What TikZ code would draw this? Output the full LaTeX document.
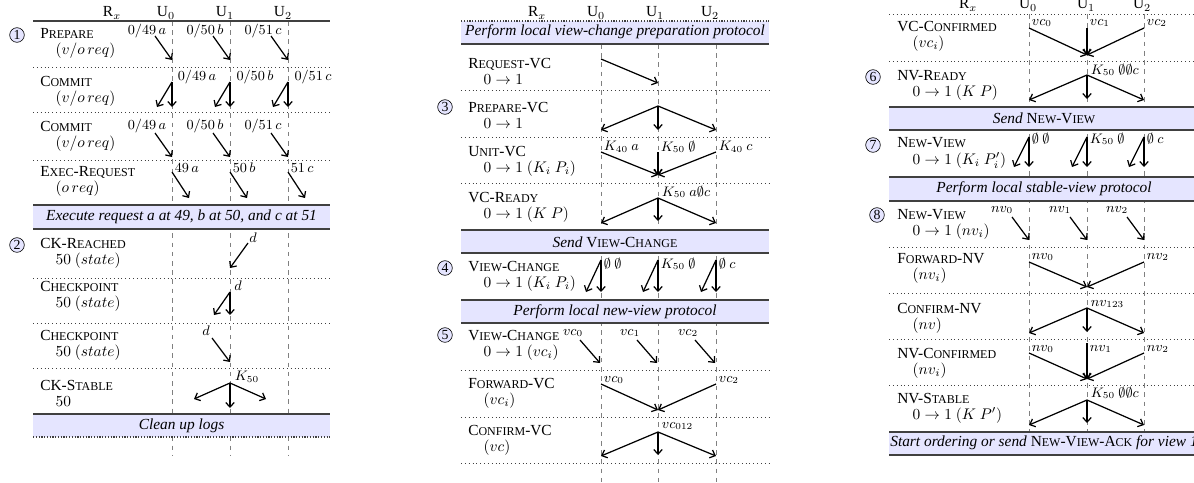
\documentclass[tikz,border=0pt]{standalone}
\usepackage{fontspec}
\setmainfont{Liberation Serif}
\usetikzlibrary{arrows.meta}
% fake small caps
\newcommand{\smc}[1]{{\fontsize{7.8pt}{9pt}\selectfont #1}}

\begin{document}
\begin{tikzpicture}[x=0.65pt,y=-0.65pt,
  lane/.style={gray,dashed,line width=0.5pt},
  sep/.style={black!75,dotted,line width=0.5pt},
  rule/.style={black!75,line width=0.8pt},
  msg/.style={-{Straight Barb[length=3pt,width=5.5pt]},line width=0.8pt},
  hdr/.style={inner sep=0pt},
  rowlbl/.style={anchor=west,align=left,inner sep=0pt,font=\fontsize{10pt}{10.5pt}\selectfont},
  lbl/.style={inner sep=1pt,font=\small},
  wlbl/.style={lbl,anchor=west},
  bandfill/.style={fill=blue!10},
  bandtxt/.style={font=\itshape,inner sep=0pt},
  stepnum/.style={circle,draw,fill=blue!10,inner sep=0pt,minimum size=9.5pt,font=\small}]
\useasboundingbox (0,0) rectangle (1194,482);
\clip (0,0) rectangle (1194,482);

% ================= left panel: ordering and checkpoint =================
\foreach \x in {172,230,288} \draw[lane] (\x,21) -- (\x,455);
\draw[rule] (33,21) -- (330,21);
\foreach \y in {67,112,160,278,323,368} \draw[sep] (33,\y) -- (330,\y);
\node[hdr] (hA) at (112,13) {R$_x$};
\node[hdr] (hA0) at (166,13) {U$_0$};
\node[hdr] (hA1) at (225,13) {U$_1$};
\node[hdr] (hA2) at (283,13) {U$_2$};

\foreach \y/\ta/\tb [count=\k] in {35/{P\smc{REPARE}}/{$(v/o\,req)$},
    83/{C\smc{OMMIT}}/{$(v/o\,req)$}, 128/{C\smc{OMMIT}}/{$(v/o\,req)$},
    173/{E\smc{XEC}-R\smc{EQUEST}}/{$(o\,req)$}, 245/{CK-R\smc{EACHED}}/{$50\ (state)$},
    288/{C\smc{HECKPOINT}}/{$50\ (state)$}, 337/{C\smc{HECKPOINT}}/{$50\ (state)$},
    385/{CK-S\smc{TABLE}}/{$50$}}
  \node[rowlbl] (rA\k) at (40,\y+8) {\ta\\\quad\tb};
\node[stepnum] (st1) at (17,35) {1};
\node[stepnum] (st2) at (17,245) {2};

% Prepare
\foreach \n/\x/\t in {0/172/{0/49\,a},1/230/{0/50\,b},2/288/{0/51\,c}}{
  \coordinate (pp\n) at (\x-17,36);
  \coordinate (pp\n e) at (\x,60);
  \node[lbl] (pp\n t) at (\x-25,31) {$\t$};
  \draw[msg] (pp\n) -- (pp\n e);
}
% Commit, forwarded
\foreach \n/\x/\t in {0/172/{0/49\,a},1/230/{0/50\,b},2/288/{0/51\,c}}{
  \coordinate (cm\n) at (\x,82);
  \coordinate (cm\n d) at (\x,107);
  \coordinate (cm\n l) at (\x-15,107);
  \node[lbl] (cm\n t) at (\x+25,77) {$\t$};
  \draw[msg] (cm\n) -- (cm\n d);
  \draw[msg] (cm\n) -- (cm\n l);
}
% Commit
\foreach \n/\x/\t in {0/172/{0/49\,a},1/230/{0/50\,b},2/288/{0/51\,c}}{
  \coordinate (ct\n) at (\x-17,133);
  \coordinate (ct\n e) at (\x,157);
  \node[lbl] (ct\n t) at (\x-25,126) {$\t$};
  \draw[msg] (ct\n) -- (ct\n e);
}
% Exec-Request
\foreach \n/\x/\t in {0/172/{49\,a},1/230/{50\,b},2/288/{51\,c}}{
  \coordinate (ex\n) at (\x,172);
  \coordinate (ex\n e) at (\x+17,198);
  \node[wlbl] (ex\n t) at (\x+1,168) {$\t$};
  \draw[msg] (ex\n) -- (ex\n e);
}

\fill[bandfill] (33,205) rectangle (330,229);
\draw[rule] (33,205) -- (330,205) (33,229) -- (330,229);
\node[bandtxt] (exec) at (181.5,217) {Execute request a at 49, b at 50, and c at 51};

% checkpoint rounds
\coordinate (ckr) at (248,243);
\coordinate (ckre) at (230,268);
\node[lbl] (ckrt) at (253,238) {$d$};
\draw[msg] (ckr) -- (ckre);

\coordinate (cka) at (230,292);
\coordinate (ckad) at (230,315);
\coordinate (ckal) at (214,315);
\node[lbl] (ckat) at (238,286) {$d$};
\draw[msg] (cka) -- (ckad);
\draw[msg] (cka) -- (ckal);

\coordinate (ckb) at (212,338);
\coordinate (ckbe) at (230,362);
\node[lbl] (ckbt) at (206,331) {$d$};
\draw[msg] (ckb) -- (ckbe);

\coordinate (cks) at (230,383);
\coordinate (cks0) at (194,399);
\coordinate (cks1) at (230,408);
\coordinate (cks2) at (266,399);
\node[wlbl] (ckst) at (233,377) {$K_{50}$};
\foreach \n in {0,1,2} \draw[msg] (cks) -- (cks\n);

\fill[bandfill] (33,414) rectangle (330,437);
\draw[rule] (33,414) -- (330,414);
\draw[rule,densely dotted] (33,437) -- (330,437);
\node[bandtxt] (clean) at (181.5,426) {Clean up logs};

% ================= middle panel: view change =================
\foreach \x in {601,658,716} \draw[lane] (\x,44) -- (\x,482);
\foreach \y in {90,137,183,370,417,463} \draw[sep] (461,\y) -- (769,\y);
\node[hdr] (hB) at (537,13) {R$_x$};
\node[hdr] (hB0) at (596,13) {U$_0$};
\node[hdr] (hB1) at (655,13) {U$_1$};
\node[hdr] (hB2) at (710,13) {U$_2$};

\fill[bandfill] (461,21) rectangle (769,44);
\draw[rule,densely dotted] (461,21) -- (769,21);
\draw[rule] (461,44) -- (769,44);
\node[bandtxt] (prep) at (615,32) {Perform local view-change preparation protocol};

\foreach \y/\ta/\tb [count=\k] in {63/{R\smc{EQUEST}-VC}/{$0\rightarrow 1$},
    107/{P\smc{REPARE}-VC}/{$0\rightarrow 1$}, 153/{U\smc{NIT}-VC}/{$0\rightarrow 1\ (K_i\ P_i)$},
    199/{VC-R\smc{EADY}}/{$0\rightarrow 1\ (K\ P)$}, 268/{V\smc{IEW}-C\smc{HANGE}}/{$0\rightarrow 1\ (K_i\ P_i)$},
    337/{V\smc{IEW}-C\smc{HANGE}}/{$0\rightarrow 1\ (vc_i)$}, 385/{F\smc{ORWARD}-VC}/{$(vc_i)$},
    432/{C\smc{ONFIRM}-VC}/{$(vc)$}}
  \node[rowlbl] (rB\k) at (468,\y+8) {\ta\\\quad\tb};
\node[stepnum] (st3) at (445,107) {3};
\node[stepnum] (st4) at (445,268) {4};
\node[stepnum] (st5) at (445,335) {5};

% Request-VC
\coordinate (rvc) at (601,59);
\coordinate (rvce) at (658,83);
\draw[msg] (rvc) -- (rvce);
% Prepare-VC
\coordinate (pvc) at (658,106);
\coordinate (pvc0) at (601,130);
\coordinate (pvc1) at (658,130);
\coordinate (pvc2) at (716,130);
\foreach \n in {0,1,2} \draw[msg] (pvc) -- (pvc\n);
% Unit-VC
\coordinate (uvce) at (658,175);
\foreach \n/\x/\t in {0/601/{K_{40}\ a},1/658/{K_{50}\ \emptyset},2/716/{K_{40}\ c}}{
  \coordinate (uvc\n) at (\x,152);
  \node[wlbl] (uvc\n t) at (\x+1,147) {$\t$};
  \draw[msg] (uvc\n) -- (uvce);
}
% VC-Ready
\coordinate (vcr) at (658,198);
\coordinate (vcr0) at (601,223);
\coordinate (vcr1) at (658,221);
\coordinate (vcr2) at (716,223);
\node[wlbl] (vcrt) at (660,192) {$K_{50}\ a\emptyset c$};
\foreach \n in {0,1,2} \draw[msg] (vcr) -- (vcr\n);

\fill[bandfill] (461,230) rectangle (769,253);
\draw[rule] (461,230) -- (769,230) (461,253) -- (769,253);
\node[bandtxt] (sendvc) at (615,242) {Send {\upshape V\smc{IEW}-C\smc{HANGE}}};

% View-Change, local
\foreach \n/\x/\t in {0/601/{\emptyset\ \emptyset},1/658/{K_{50}\ \emptyset},2/716/{\emptyset\ c}}{
  \coordinate (lvc\n) at (\x,260);
  \coordinate (lvc\n d) at (\x,292);
  \coordinate (lvc\n l) at (\x-15,292);
  \node[wlbl] (lvc\n t) at (\x+1,264) {$\t$};
  \draw[msg] (lvc\n) -- (lvc\n d);
  \draw[msg] (lvc\n) -- (lvc\n l);
}

\fill[bandfill] (461,300) rectangle (769,323);
\draw[rule] (461,300) -- (769,300) (461,323) -- (769,323);
\node[bandtxt] (newv) at (615,312) {Perform local new-view protocol};

% View-Change, broadcast
\foreach \n/\x in {0/601,1/658,2/716}{
  \coordinate (bvc\n) at (\x-21,340);
  \coordinate (bvc\n e) at (\x-1,363);
  \node[lbl] (bvc\n t) at (\x-28,333) {$vc_{\n}$};
  \draw[msg] (bvc\n) -- (bvc\n e);
}
% Forward-VC
\coordinate (fvce) at (658,410);
\coordinate (fvc0) at (601,384);
\coordinate (fvc2) at (716,384);
\node[wlbl] (fvc0t) at (602,380) {$vc_0$};
\node[wlbl] (fvc2t) at (717,380) {$vc_2$};
\draw[msg] (fvc0) -- (fvce);
\draw[msg] (fvc2) -- (fvce);
% Confirm-VC
\coordinate (cvc) at (658,432);
\coordinate (cvc0) at (601,456);
\coordinate (cvc1) at (658,455);
\coordinate (cvc2) at (716,456);
\node[wlbl] (cvct) at (660,426) {$vc_{012}$};
\foreach \n in {0,1,2} \draw[msg] (cvc) -- (cvc\n);

% ================= right panel: new view =================
\foreach \x in {1029,1087,1144} \draw[lane] (\x,14) -- (\x,432);
\foreach \y in {14,61,247,293,339,385} \draw[sep] (889,\y) -- (1199,\y);
\node[hdr] (hC) at (968,5) {R$_x$};
\node[hdr] (hC0) at (1028,5) {U$_0$};
\node[hdr] (hC1) at (1086,5) {U$_1$};
\node[hdr] (hC2) at (1142,5) {U$_2$};

\foreach \y/\ta/\tb [count=\k] in {28/{VC-C\smc{ONFIRMED}}/{$(vc_i)$},
    77/{NV-R\smc{EADY}}/{$0\rightarrow 1\ (K\ P)$}, 145/{N\smc{EW}-V\smc{IEW}}/{$0\rightarrow 1\ (K_i\ P'_i)$},
    216/{N\smc{EW}-V\smc{IEW}}/{$0\rightarrow 1\ (nv_i)$}, 260/{F\smc{ORWARD}-NV}/{$(nv_i)$},
    310/{C\smc{ONFIRM}-NV}/{$(nv)$}, 355/{NV-C\smc{ONFIRMED}}/{$(nv_i)$},
    400/{NV-S\smc{TABLE}}/{$0\rightarrow 1\ (K\ P')$}}
  \node[rowlbl] (rC\k) at (897,\y+8) {\ta\\\quad\tb};
\node[stepnum] (st6) at (873,77) {6};
\node[stepnum] (st7) at (873,145) {7};
\node[stepnum] (st8) at (877,215) {8};

% VC-Confirmed
\coordinate (vcce) at (1087,55);
\foreach \n/\x in {0/1029,1/1087,2/1144}{
  \coordinate (vcc\n) at (\x,28);
  \node[wlbl] (vcc\n t) at (\x+1,23) {$vc_{\n}$};
  \draw[msg] (vcc\n) -- (vcce);
}
% NV-Ready
\coordinate (nvr) at (1087,75);
\coordinate (nvr0) at (1029,100);
\coordinate (nvr1) at (1087,99);
\coordinate (nvr2) at (1144,100);
\node[wlbl] (nvrt) at (1089,70) {$K_{50}\ \emptyset\emptyset c$};
\foreach \n in {0,1,2} \draw[msg] (nvr) -- (nvr\n);

\fill[bandfill] (889,107) rectangle (1199,130);
\draw[rule] (889,107) -- (1199,107) (889,130) -- (1199,130);
\node[bandtxt] (sendnv) at (1044,118) {Send {\upshape N\smc{EW}-V\smc{IEW}}};

% New-View, local
\foreach \n/\x/\t in {0/1029/{\emptyset\ \emptyset},1/1087/{K_{50}\ \emptyset},2/1144/{\emptyset\ c}}{
  \coordinate (lnv\n) at (\x,137);
  \coordinate (lnv\n d) at (\x,167);
  \coordinate (lnv\n l) at (\x-15,167);
  \node[wlbl] (lnv\n t) at (\x+1,139) {$\t$};
  \draw[msg] (lnv\n) -- (lnv\n d);
  \draw[msg] (lnv\n) -- (lnv\n l);
}

\fill[bandfill] (889,177) rectangle (1199,201);
\draw[rule] (889,177) -- (1199,177) (889,201) -- (1199,201);
\node[bandtxt] (stab) at (1044,189) {Perform local stable-view protocol};

% New-View, broadcast
\foreach \n/\x in {0/1029,1/1087,2/1144}{
  \coordinate (bnv\n) at (\x-17,217);
  \coordinate (bnv\n e) at (\x,240);
  \node[lbl] (bnv\n t) at (\x-27,210) {$nv_{\n}$};
  \draw[msg] (bnv\n) -- (bnv\n e);
}
% Forward-NV
\coordinate (fnve) at (1087,287);
\coordinate (fnv0) at (1029,262);
\coordinate (fnv2) at (1144,262);
\node[wlbl] (fnv0t) at (1030,257) {$nv_0$};
\node[wlbl] (fnv2t) at (1145,257) {$nv_2$};
\draw[msg] (fnv0) -- (fnve);
\draw[msg] (fnv2) -- (fnve);
% Confirm-NV
\coordinate (cnv) at (1087,308);
\coordinate (cnv0) at (1029,333);
\coordinate (cnv1) at (1087,332);
\coordinate (cnv2) at (1144,333);
\node[wlbl] (cnvt) at (1089,304) {$nv_{123}$};
\foreach \n in {0,1,2} \draw[msg] (cnv) -- (cnv\n);
% NV-Confirmed
\coordinate (nvce) at (1087,379);
\coordinate (nvc0) at (1029,353);
\coordinate (nvc1) at (1087,343);
\coordinate (nvc2) at (1144,353);
\foreach \n/\x in {0/1029,1/1087,2/1144}{
  \node[wlbl] (nvc\n t) at (\x+1,349) {$nv_{\n}$};
  \draw[msg] (nvc\n) -- (nvce);
}
% NV-Stable
\coordinate (nvs) at (1087,400);
\coordinate (nvs0) at (1029,425);
\coordinate (nvs1) at (1087,423);
\coordinate (nvs2) at (1144,425);
\node[wlbl] (nvst) at (1089,393) {$K_{50}\ \emptyset\emptyset c$};
\foreach \n in {0,1,2} \draw[msg] (nvs) -- (nvs\n);

\fill[bandfill] (889,432) rectangle (1199,455);
\draw[rule] (889,432) -- (1199,432) (889,455) -- (1199,455);
\node[bandtxt] (start) at (1044,443) {Start ordering or send {\upshape N\smc{EW}-V\smc{IEW}-A\smc{CK}} for view 1};
\end{tikzpicture}
\end{document}
